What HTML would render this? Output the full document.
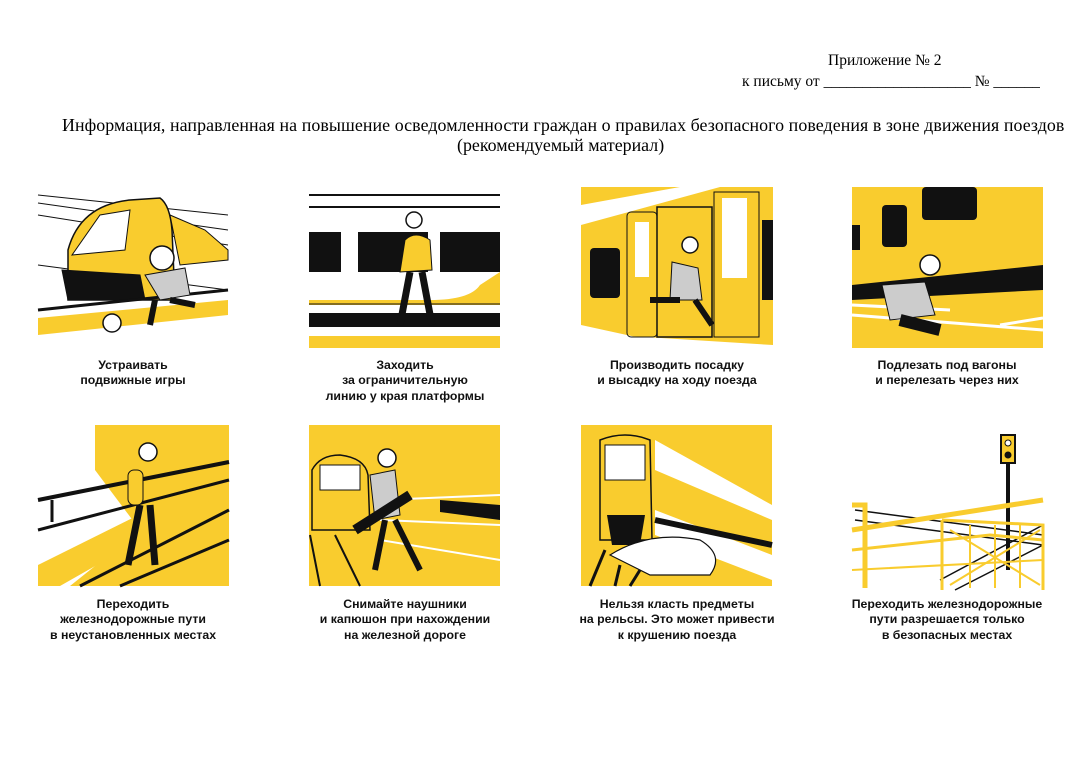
<!DOCTYPE html>
<html><head><meta charset="utf-8"><style>
body{margin:0;width:1080px;height:763px;background:#fff;position:relative;overflow:hidden;font-family:"Liberation Serif",serif}
.t{position:absolute;font-size:15.5px;color:#000;white-space:nowrap}
.c{position:absolute;width:240px;text-align:center;font-family:"Liberation Sans","DejaVu Sans",sans-serif;font-weight:bold;font-size:12.3px;line-height:15.3px;color:#111}
svg{position:absolute;left:0;top:0}
</style></head><body>
<div class="t" style="left:828px;top:52px">Приложение № 2</div>
<div class="t" style="left:742px;top:73px">к письму от ___________________ № ______</div>
<div class="t" style="left:62px;top:115px;font-size:17.9px;letter-spacing:0.07px">Информация, направленная на повышение осведомленности граждан о правилах безопасного поведения в зоне движения поездов</div>
<div class="t" style="left:457px;top:135px;font-size:17.9px">(рекомендуемый материал)</div>
<svg width="1080" height="763" viewBox="0 0 1080 763">
<g stroke="#111" fill="none">
<path d="M38 195 L228 215 M38 203 L228 230 M38 215 L228 245 M38 265 L228 290" stroke-width="1"/>
<path d="M68 250 Q80 205 130 200 L160 198 Q170 205 172 230 L175 300 L68 300 Z" fill="#f9cc2e" stroke-width="1.5"/>
<path d="M72 255 L100 215 L130 210 L125 250 Z" fill="#fff"/>
<path d="M62 270 L140 275 L145 300 L68 300 Z" fill="#111"/>
<path d="M170 215 L205 230 L228 250 L228 260 L180 265 Z" fill="#f9cc2e" stroke-width="1"/>
<path d="M38 318 L228 300 L228 315 L38 335 Z" fill="#f9cc2e" stroke="none"/>
<path d="M38 310 L228 290" stroke-width="3"/>
<circle cx="112" cy="323" r="9" fill="#fff" stroke-width="1.5"/>
<path d="M145 275 L185 268 L190 295 L160 300 Z" fill="#ccc"/>
<path d="M155 300 L150 325 M170 300 L195 305" stroke-width="6"/>
<circle cx="162" cy="258" r="12" fill="#fff" stroke-width="1.5"/>
<path d="M309 195 H500 M309 207 H500" stroke-width="2"/>
<rect x="309" y="230" width="191" height="80" fill="#fff" stroke="none"/>
<rect x="309" y="232" width="32" height="40" fill="#111" stroke="none"/>
<rect x="358" y="232" width="70" height="40" fill="#111" stroke="none"/>
<rect x="440" y="232" width="60" height="40" fill="#111" stroke="none"/>
<path d="M309 300 H430 Q470 300 480 285 L500 272 V305 H309 Z" fill="#f9cc2e" stroke="none"/>
<rect x="309" y="313" width="191" height="14" fill="#111" stroke="none"/>
<rect x="309" y="336" width="191" height="12" fill="#f9cc2e" stroke="none"/>
<path d="M309 304 H500" stroke-width="1"/>
<path d="M405 240 Q415 230 430 240 L432 270 L400 272 Z" fill="#f9cc2e" stroke-width="1"/>
<path d="M410 272 L400 325 M422 272 L432 325" stroke="#111" stroke-width="7"/>
<circle cx="414" cy="220" r="8" fill="#fff" stroke-width="1.5"/>
<rect x="581" y="187" width="192" height="161" fill="#f9cc2e" stroke="none"/>
<path d="M581 205 L680 187 L720 187 L581 225 Z" fill="#fff" stroke="none"/>
<path d="M581 333 L773 345 L773 348 L581 348 Z M581 325 L650 340 L581 340Z" fill="#fff" stroke="none"/>
<rect x="590" y="248" width="30" height="50" rx="4" fill="#111" stroke="none"/>
<rect x="627" y="212" width="30" height="125" rx="4" stroke-width="1"/>
<rect x="635" y="222" width="14" height="55" fill="#fff" stroke="none"/>
<rect x="657" y="207" width="55" height="130" stroke-width="1.5"/>
<rect x="714" y="192" width="45" height="145" stroke-width="1"/>
<rect x="722" y="198" width="25" height="80" fill="#fff" stroke="none"/>
<rect x="762" y="220" width="11" height="80" fill="#111" stroke="none"/>
<path d="M672 262 L698 268 L702 300 L670 300 Z" fill="#ccc" stroke-width="1"/>
<path d="M680 300 L650 300 M695 300 L712 325" stroke-width="6"/>
<circle cx="690" cy="245" r="8" fill="#fff" stroke-width="1.5"/>
<rect x="852" y="187" width="191" height="161" fill="#f9cc2e" stroke="none"/>
<rect x="922" y="187" width="55" height="33" rx="4" fill="#111" stroke="none"/>
<rect x="882" y="205" width="25" height="42" rx="4" fill="#111" stroke="none"/>
<rect x="852" y="225" width="8" height="25" fill="#111" stroke="none"/>
<path d="M852 285 L1043 265 V290 L852 300 Z" fill="#111" stroke="none"/>
<path d="M852 305 L950 310 M852 315 L1043 330 M1000 325 L1043 318" stroke="#fff" stroke-width="3"/>
<path d="M882 285 L925 282 L935 315 L890 320 Z" fill="#ccc" stroke-width="1"/>
<path d="M900 320 L940 330" stroke-width="12"/>
<circle cx="930" cy="265" r="10" fill="#fff" stroke-width="1.5"/>
<path d="M95 425 H229 V586 H70 L140 530 L95 470 Z" fill="#f9cc2e" stroke="none"/>
<path d="M38 565 L229 470 L229 490 L60 586 L38 586 Z" fill="#f9cc2e" stroke="none"/>
<path d="M38 500 L229 462" stroke-width="4"/>
<path d="M52 500 V522 M38 530 L229 480 M80 586 L229 510 M120 586 L229 540" stroke-width="3"/>
<rect x="128" y="470" width="15" height="35" rx="6" fill="#f9cc2e" stroke-width="1"/>
<path d="M140 505 L128 565 M150 505 L155 565" stroke-width="7"/>
<circle cx="148" cy="452" r="9" fill="#fff" stroke-width="1.5"/>
<rect x="309" y="425" width="191" height="161" fill="#f9cc2e" stroke="none"/>
<path d="M312 470 Q320 455 340 455 Q365 458 368 475 L370 530 L312 530 Z" fill="#f9cc2e" stroke-width="1.5"/>
<rect x="320" y="465" width="40" height="25" fill="#fff" stroke-width="1"/>
<path d="M310 535 L320 586 M335 535 L360 586" stroke-width="2"/>
<path d="M380 500 L500 495 M380 520 L500 525 M380 540 L500 560" stroke="#fff" stroke-width="2"/>
<path d="M440 500 L500 505 L500 520 L440 512 Z" fill="#111" stroke="none"/>
<path d="M370 475 L395 470 L400 515 L375 520 Z" fill="#ccc" stroke-width="1"/>
<path d="M355 530 L410 495" stroke-width="10" stroke="#111"/>
<path d="M385 520 L375 570 M395 520 L420 570" stroke-width="6"/>
<circle cx="387" cy="458" r="9" fill="#fff" stroke-width="1.5"/>
<rect x="581" y="425" width="191" height="161" fill="#f9cc2e" stroke="none"/>
<path d="M600 440 Q625 430 650 440 L652 540 L600 540 Z" fill="#f9cc2e" stroke-width="1.5"/>
<rect x="605" y="445" width="40" height="35" fill="#fff" stroke-width="1"/>
<path d="M607 515 L645 515 L640 545 L612 545 Z" fill="#111" stroke="none"/>
<path d="M655 440 L772 505 L772 520 L655 470 Z M655 510 L772 555 L772 580 L655 535 Z" fill="#fff" stroke="none"/>
<path d="M655 520 L772 545" stroke-width="6"/>
<path d="M610 555 Q650 530 700 540 Q725 555 710 575 L650 575 Z" fill="#fff" stroke-width="1.2"/>
<path d="M590 586 L605 550 M615 586 L620 565 M630 586 L640 570" stroke-width="3"/>
<rect x="1001" y="435" width="14" height="28" fill="#f9cc2e" stroke="#111" stroke-width="2"/>
<circle cx="1008" cy="443" r="3" fill="#fff"/><circle cx="1008" cy="455" r="3" fill="#111"/>
<path d="M1008 463 V570" stroke-width="4"/>
<path d="M855 510 L1043 535 M855 520 L1043 545 M940 580 L1043 525 M955 590 L1043 545" stroke-width="1.5"/>
<path d="M852 505 H865 V588 M852 530 L1043 500" stroke="#f9cc2e" stroke-width="5"/>
<path d="M942 520 L1043 525 V590 M942 520 V590 M852 550 L990 535 L1043 540" stroke="#f9cc2e" stroke-width="3"/>
<path d="M950 530 L1040 585 M950 585 L1040 530 M970 525 V588 M995 525 V588 M1020 525 V588 M852 570 L1043 560" stroke="#f9cc2e" stroke-width="2"/>
</g>
</svg>
<div class="c" style="left:13px;top:358px">Устраивать<br>подвижные игры</div>
<div class="c" style="left:285px;top:358px">Заходить<br>за ограничительную<br>линию у края платформы</div>
<div class="c" style="left:557px;top:358px">Производить посадку<br>и высадку на ходу поезда</div>
<div class="c" style="left:827px;top:358px">Подлезать под вагоны<br>и перелезать через них</div>
<div class="c" style="left:13px;top:597px">Переходить<br>железнодорожные пути<br>в неустановленных местах</div>
<div class="c" style="left:285px;top:597px">Снимайте наушники<br>и капюшон при нахождении<br>на железной дороге</div>
<div class="c" style="left:557px;top:597px">Нельзя класть предметы<br>на рельсы. Это может привести<br>к крушению поезда</div>
<div class="c" style="left:827px;top:597px">Переходить железнодорожные<br>пути разрешается только<br>в безопасных местах</div>
</body></html>
